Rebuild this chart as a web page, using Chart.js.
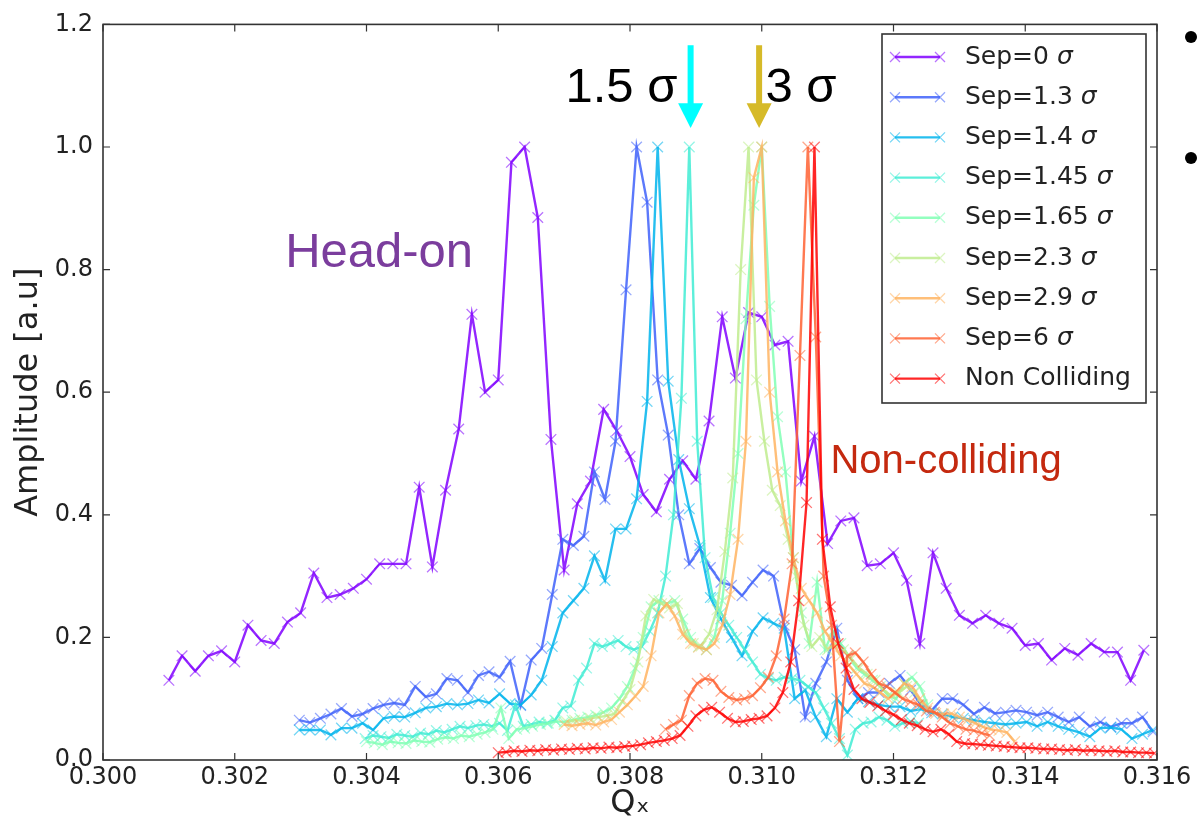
<!DOCTYPE html>
<html>
<head>
<meta charset="utf-8">
<script src="https://cdn.jsdelivr.net/npm/chart.js@4.4.1/dist/chart.umd.min.js"></script>
<style>
  html, body { margin: 0; padding: 0; background: #fff; }
  canvas { display: block; }
</style>
</head>
<body>
<canvas id="canvas" width="1197" height="833"></canvas>
<script>
// tune spectra. each series: first Qx, Qx step, amplitudes
const sep0Start = 0.301, sep0Step = 0.0002;
const sep0Amp = [0.13,0.17,0.145,0.17,0.178,0.16,0.22,0.195,0.19,0.225,
  0.24,0.305,0.265,0.27,0.28,0.295,0.32,0.32,0.32,0.445,
  0.315,0.44,0.54,0.727,0.60,0.62,0.975,1.0,0.885,0.523,
  0.31,0.418,0.455,0.572,0.537,0.495,0.433,0.405,0.458,0.488,
  0.458,0.553,0.723,0.623,0.73,0.723,0.677,0.683,0.455,0.528,
  0.353,0.39,0.395,0.317,0.32,0.338,0.293,0.19,0.338,0.28,
  0.236,0.223,0.236,0.223,0.215,0.187,0.19,0.163,0.182,0.171,
  0.19,0.176,0.176,0.13,0.179];

const sep13Start = 0.30298, sep13Step = 0.00016;
const sep13Amp = [0.065,0.061,0.068,0.075,0.084,0.071,0.075,0.084,0.09,0.093,
  0.09,0.12,0.103,0.108,0.133,0.13,0.11,0.138,0.144,0.135,
  0.161,0.089,0.163,0.182,0.27,0.36,0.35,0.365,0.47,0.425,
  0.52,0.767,1.0,0.91,0.62,0.53,0.40,0.32,0.345,0.314,
  0.29,0.285,0.268,0.29,0.31,0.30,0.22,0.18,0.07,0.125,
  0.16,0.215,0.13,0.1,0.11,0.11,0.125,0.138,0.114,0.09,
  0.081,0.1,0.1,0.09,0.075,0.086,0.076,0.078,0.081,0.078,
  0.073,0.078,0.07,0.062,0.07,0.055,0.062,0.054,0.06,0.06,
  0.07,0.046];

const sep14Start = 0.30298, sep14Step = 0.00016;
const sep14Amp = [0.049,0.049,0.049,0.041,0.052,0.052,0.06,0.049,0.068,0.071,
  0.07,0.077,0.085,0.087,0.092,0.09,0.092,0.098,0.093,0.108,
  0.092,0.09,0.106,0.13,0.185,0.24,0.26,0.28,0.333,0.293,
  0.377,0.377,0.426,0.585,1.0,0.618,0.49,0.41,0.35,0.265,
  0.23,0.2,0.17,0.21,0.232,0.223,0.215,0.1,0.114,0.07,
  0.038,0.1,0.078,0.1,0.095,0.09,0.087,0.087,0.08,0.083,
  0.077,0.075,0.07,0.068,0.065,0.062,0.06,0.058,0.06,0.062,
  0.055,0.062,0.055,0.05,0.045,0.038,0.052,0.053,0.05,0.035,
  0.042,0.049];

const sep145Start = 0.30398, sep145Step = 0.00012;
const sep145Amp = [0.035,0.04,0.038,0.036,0.042,0.04,0.038,0.044,0.042,0.048,
  0.045,0.05,0.055,0.052,0.056,0.058,0.055,0.06,0.048,0.09,
  0.055,0.058,0.062,0.06,0.065,0.085,0.088,0.13,0.15,0.19,
  0.185,0.19,0.195,0.185,0.18,0.185,0.21,0.24,0.3,0.4,
  0.59,1.0,0.52,0.33,0.265,0.24,0.22,0.2,0.18,0.16,
  0.14,0.133,0.13,0.135,0.133,0.13,0.12,0.11,0.085,0.06,
  0.035,0.008,0.05,0.06,0.062,0.07,0.065,0.055,0.06,0.063,
  0.06];

const sep165Start = 0.304, sep165Step = 0.00012;
const sep165Amp = [0.03,0.028,0.025,0.03,0.028,0.027,0.032,0.03,0.029,0.034,
  0.037,0.035,0.04,0.038,0.042,0.045,0.05,0.085,0.035,0.05,
  0.052,0.055,0.058,0.06,0.063,0.062,0.065,0.068,0.07,0.073,
  0.078,0.085,0.1,0.12,0.15,0.2,0.25,0.26,0.255,0.26,
  0.23,0.2,0.185,0.18,0.2,0.26,0.37,0.5,0.72,0.905,
  1.0,0.74,0.56,0.47,0.33,0.24,0.19,0.29,0.18,0.21,
  0.19,0.17,0.15,0.14,0.13,0.12,0.105,0.1,0.125,0.135,
  0.12,0.09];

const sep23Start = 0.30704, sep23Step = 0.00012;
const sep23Amp = [0.062,0.065,0.064,0.068,0.07,0.072,0.075,0.095,0.115,0.16,
  0.235,0.262,0.255,0.248,0.255,0.205,0.19,0.186,0.205,0.245,
  0.34,0.46,0.8,1.0,0.62,0.52,0.44,0.415,0.36,0.3,
  0.22,0.185,0.2,0.18,0.19,0.18,0.165,0.15,0.14,0.13,
  0.115,0.105,0.11,0.12,0.11,0.09];

const sep29Start = 0.307, sep29Step = 0.00012;
const sep29Amp = [0.058,0.056,0.058,0.06,0.057,0.062,0.066,0.078,0.09,0.104,
  0.12,0.17,0.24,0.255,0.235,0.205,0.19,0.184,0.18,0.19,
  0.22,0.27,0.36,0.52,0.95,1.0,0.6,0.47,0.39,0.33,
  0.28,0.26,0.24,0.21,0.19,0.17,0.155,0.14,0.125,0.12,
  0.11,0.1,0.11,0.125,0.12,0.1,0.085,0.076,0.075,0.076,
  0.07,0.065,0.06,0.054,0.05,0.048,0.045,0.03];

const sep6Start = 0.30854, sep6Step = 0.00012;
const sep6Amp = [0.05,0.058,0.065,0.105,0.125,0.133,0.13,0.112,0.102,0.098,
  0.1,0.105,0.118,0.135,0.17,0.23,0.32,0.66,1.0,0.69,
  0.3,0.22,0.03,0.17,0.175,0.16,0.14,0.125,0.12,0.11,
  0.1,0.095,0.09,0.08,0.078,0.07,0.06,0.055,0.05,0.048,
  0.044,0.04];

const nonCollStart = 0.306, nonCollStep = 0.00012;
const nonCollAmp = [0.012,0.013,0.015,0.014,0.016,0.015,0.017,0.016,0.018,0.017,
  0.019,0.018,0.02,0.019,0.021,0.02,0.022,0.023,0.025,0.028,
  0.03,0.032,0.035,0.04,0.055,0.072,0.082,0.086,0.078,0.068,
  0.062,0.063,0.066,0.068,0.072,0.085,0.11,0.16,0.26,0.42,
  1.0,0.36,0.25,0.19,0.15,0.115,0.1,0.094,0.088,0.08,
  0.074,0.066,0.06,0.056,0.05,0.046,0.05,0.042,0.03,0.027,
  0.026,0.025,0.024,0.023,0.022,0.021,0.02,0.02,0.019,0.018,
  0.018,0.017,0.016,0.017,0.015,0.016,0.015,0.014,0.015,0.013,
  0.013,0.012,0.012,0.011];

const seriesLabels = ['Sep=0 σ','Sep=1.3 σ','Sep=1.4 σ','Sep=1.45 σ','Sep=1.65 σ',
  'Sep=2.3 σ','Sep=2.9 σ','Sep=6 σ','Non Colliding'];
// matplotlib "rainbow" colormap, 9 steps
const seriesColors = [[128,0,255],[64,98,250],[0,180,236],[64,236,212],[128,255,180],
  [191,236,142],[255,180,98],[255,98,50],[255,0,0]];

const xTicks = [0.300,0.302,0.304,0.306,0.308,0.310,0.312,0.314,0.316];
const yTicks = [0.0,0.2,0.4,0.6,0.8,1.0,1.2];

const allSeries = [
  [sep0Start, sep0Step, sep0Amp],
  [sep13Start, sep13Step, sep13Amp],
  [sep14Start, sep14Step, sep14Amp],
  [sep145Start, sep145Step, sep145Amp],
  [sep165Start, sep165Step, sep165Amp],
  [sep23Start, sep23Step, sep23Amp],
  [sep29Start, sep29Step, sep29Amp],
  [sep6Start, sep6Step, sep6Amp],
  [nonCollStart, nonCollStep, nonCollAmp]
];

function rgba(c, a) { return 'rgba(' + c[0] + ',' + c[1] + ',' + c[2] + ',' + a + ')'; }

let datasets = allSeries.map((s, i) => ({
  label: seriesLabels[i],
  data: s[2].map((v, k) => ({ x: s[0] + s[1] * k, y: v })),
  showLine: true,
  borderColor: rgba(seriesColors[i], 0.85),
  borderWidth: 2.4,
  pointStyle: 'crossRot',
  pointRadius: 7.5,
  pointBorderWidth: 1.3,
  pointBorderColor: rgba(seriesColors[i], 0.55),
  pointBackgroundColor: 'rgba(0,0,0,0)',
  order: 8 - i
}));

const tickFont = { family: 'DejaVu Sans', size: 24 };
const titleFont = { family: 'DejaVu Sans', size: 32 };
const textColor = '#222';

// frame and inward ticks on all four sides
const framePlugin = {
  id: 'frame',
  afterDatasetsDraw(chart) {
    const { ctx, chartArea: a, scales } = chart;
    ctx.save();
    ctx.strokeStyle = '#333';
    ctx.lineWidth = 1.6;
    ctx.strokeRect(a.left, a.top, a.right - a.left, a.bottom - a.top);
    ctx.lineWidth = 1.2;
    ctx.beginPath();
    xTicks.forEach(t => {
      const px = scales.x.getPixelForValue(t);
      ctx.moveTo(px, a.bottom); ctx.lineTo(px, a.bottom - 7);
      ctx.moveTo(px, a.top); ctx.lineTo(px, a.top + 7);
    });
    yTicks.forEach(t => {
      const py = scales.y.getPixelForValue(t);
      ctx.moveTo(a.left, py); ctx.lineTo(a.left + 7, py);
      ctx.moveTo(a.right, py); ctx.lineTo(a.right - 7, py);
    });
    ctx.stroke();
    ctx.restore();
  }
};

function drawCross(ctx, x, y, r) {
  ctx.moveTo(x - r, y - r); ctx.lineTo(x + r, y + r);
  ctx.moveTo(x - r, y + r); ctx.lineTo(x + r, y - r);
}

const legendPlugin = {
  id: 'boxLegend',
  afterDraw(chart) {
    const ctx = chart.ctx;
    const bx = 882, by = 34, bw = 264, bh = 369;
    ctx.save();
    ctx.fillStyle = '#fff';
    ctx.fillRect(bx, by, bw, bh);
    ctx.strokeStyle = '#333';
    ctx.lineWidth = 1.6;
    ctx.strokeRect(bx, by, bw, bh);
    chart.data.datasets.forEach((ds, i) => {
      const y = 57 + 40.2 * i;
      const c = seriesColors[i];
      ctx.strokeStyle = rgba(c, 0.85);
      ctx.lineWidth = 2.4;
      ctx.beginPath(); ctx.moveTo(895, y); ctx.lineTo(940, y); ctx.stroke();
      ctx.strokeStyle = rgba(c, 0.55);
      ctx.lineWidth = 1.3;
      ctx.beginPath(); drawCross(ctx, 895, y, 5); drawCross(ctx, 940, y, 5); ctx.stroke();
      ctx.fillStyle = textColor;
      ctx.textBaseline = 'middle';
      ctx.textAlign = 'left';
      let label = ds.label;
      let tail = '';
      if (label.endsWith('σ')) { tail = 'σ'; label = label.slice(0, -1); }
      ctx.font = '25px "DejaVu Sans"';
      ctx.fillText(label, 965, y);
      if (tail) {
        const w = ctx.measureText(label).width;
        ctx.font = 'italic 25px "DejaVu Sans"';
        ctx.fillText(tail, 965 + w, y);
      }
    });
    ctx.restore();
  }
};

function arrowDown(ctx, x, yTop, yNeck, yTip, color) {
  ctx.fillStyle = color;
  ctx.fillRect(x - 3, yTop, 6, yNeck - yTop + 1);
  ctx.beginPath();
  ctx.moveTo(x - 12.5, yNeck); ctx.lineTo(x + 12.5, yNeck); ctx.lineTo(x, yTip);
  ctx.closePath(); ctx.fill();
}

// text notes and arrows placed in data coordinates
const notesPlugin = {
  id: 'notes',
  afterDraw(chart) {
    const { ctx, scales: { x, y } } = chart;
    ctx.save();
    ctx.textBaseline = 'alphabetic';
    ctx.textAlign = 'left';
    arrowDown(ctx, x.getPixelForValue(0.30892), y.getPixelForValue(1.166),
      y.getPixelForValue(1.0715), y.getPixelForValue(1.031), '#00ffff');
    arrowDown(ctx, x.getPixelForValue(0.30996), y.getPixelForValue(1.166),
      y.getPixelForValue(1.0715), y.getPixelForValue(1.031), 'rgb(214,186,40)');
    ctx.fillStyle = '#000';
    ctx.font = '49px "Liberation Sans"';
    ctx.fillText('1.5 σ', x.getPixelForValue(0.30702), y.getPixelForValue(1.073));
    ctx.fillText('3 σ', x.getPixelForValue(0.310056), y.getPixelForValue(1.073));
    ctx.fillStyle = '#7b3d9d';
    ctx.font = '49px "Liberation Sans"';
    ctx.fillText('Head-on', x.getPixelForValue(0.302765), y.getPixelForValue(0.805));
    ctx.fillStyle = '#c4290f';
    ctx.font = '40px "Liberation Sans"';
    ctx.fillText('Non-colliding', x.getPixelForValue(0.311043), y.getPixelForValue(0.468));
    // slide bullets at the right edge
    ctx.fillStyle = '#000';
    ctx.beginPath(); ctx.arc(1191, 37, 6, 0, Math.PI * 2); ctx.fill();
    ctx.beginPath(); ctx.arc(1191, 158, 6, 0, Math.PI * 2); ctx.fill();
    ctx.restore();
  }
};

new Chart(document.getElementById('canvas'), {
  type: 'scatter',
  data: { datasets: datasets },
  options: {
    responsive: false,
    animation: false,
    devicePixelRatio: 1,
    layout: { padding: { top: 22, right: 40, left: 0, bottom: 0 } },
    plugins: { legend: { display: false }, tooltip: { enabled: false } },
    scales: {
      x: {
        type: 'linear', min: 0.300, max: 0.316,
        afterBuildTicks: s => { s.ticks = xTicks.map(v => ({ value: v })); },
        ticks: { callback: v => v.toFixed(3), font: tickFont, color: textColor,
          padding: 3, maxRotation: 0, autoSkip: false },
        grid: { display: false, drawTicks: false },
        border: { display: false },
        title: { display: true, text: 'Qₓ', color: textColor,
          font: titleFont, padding: { top: 0, bottom: 10 } },
        afterFit: s => { s.height = 73; }
      },
      y: {
        type: 'linear', min: 0, max: 1.2,
        afterBuildTicks: s => { s.ticks = yTicks.map(v => ({ value: v })); },
        ticks: { callback: v => v.toFixed(1), font: tickFont, color: textColor, padding: 10 },
        grid: { display: false, drawTicks: false },
        border: { display: false },
        title: { display: true, text: 'Amplitude [a.u]', color: textColor,
          font: titleFont, padding: { top: 9, bottom: 0 } },
        afterFit: s => { s.width = 103; }
      }
    }
  },
  plugins: [framePlugin, legendPlugin, notesPlugin]
});
</script>
</body>
</html>
